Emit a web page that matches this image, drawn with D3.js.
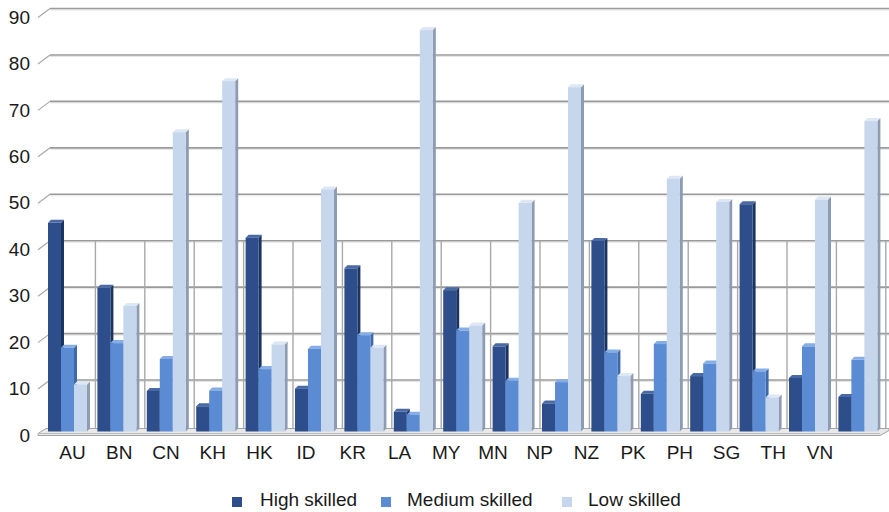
<!DOCTYPE html>
<html>
<head>
<meta charset="utf-8">
<script src="https://cdn.jsdelivr.net/npm/d3@7/dist/d3.min.js"></script>
<style>
  html, body { margin: 0; padding: 0; background: #ffffff; }
  svg { display: block; font-family: "Liberation Sans", Arial, sans-serif; }
</style>
</head>
<body>
<svg id="chart" width="889" height="512"></svg>
<script>
// ---- data ----
const categories = ["AU","BN","CN","KH","HK","ID","KR","LA","MY","MN","NP","NZ","PK","PH","SG","TH","VN"];
const seriesNames = ["High skilled", "Medium skilled", "Low skilled"];
const highSkilled   = [44.5, 30.5, 8.3, 5.0, 41.3, 8.8, 34.7, 3.8, 30.0, 17.9, 5.6, 40.6, 7.7, 11.5, 48.5, 11.1, 7.0];
const mediumSkilled = [17.6, 18.6, 15.2, 8.4, 13.0, 17.4, 20.3, 3.2, 21.3, 10.5, 10.2, 16.6, 18.4, 14.2, 12.5, 17.9, 15.0];
const lowSkilled    = [9.7, 26.6, 64.0, 75.0, 18.3, 51.7, 17.6, 86.0, 22.4, 48.8, 73.7, 11.5, 54.0, 49.0, 6.9, 49.5, 66.4];
const yTicks = [0, 10, 20, 30, 40, 50, 60, 70, 80, 90];

const seriesValues = [highSkilled, mediumSkilled, lowSkilled];
const colors = {
  front: ["#2d4e8a", "#5b8cd3", "#c6d6ec"],
  side:  ["#1c3462", "#3d69ab", "#8d9cb3"],
  top:   ["#4a6aa6", "#86aee6", "#dde7f5"]
};

const svg = d3.select("#chart");
const W = 889, H = 512;
const depth = 3;            // 3D offset of bars
const floorFront = 431.5;   // front baseline of bars

const y = d3.scaleLinear().domain([0, 90]).range([426.5, 8.5]);
const x0 = d3.scaleBand().domain(categories).range([48, 48 + 49.4 * categories.length]).paddingInner(0).paddingOuter(0);
const x1 = d3.scaleBand().domain(seriesNames).range([0, 39]).padding(0);
const xLabel = d3.scalePoint().domain(categories).range([72.5, 820]);

// ---- gridlines (back wall) with slanted side-wall ticks ----
const grid = svg.append("g");
yTicks.forEach(t => {
  if (t === 0) return;
  const yy = y(t);
  grid.append("line").attr("x1", 50).attr("x2", W).attr("y1", yy).attr("y2", yy)
    .attr("stroke", "#e4e4e4").attr("stroke-width", 1).attr("transform", "translate(0,1.5)");
  grid.append("line").attr("x1", 50).attr("x2", W).attr("y1", yy).attr("y2", yy)
    .attr("stroke", "#9a9a9a").attr("stroke-width", 1.6);
  grid.append("line").attr("x1", 38).attr("y1", yy + 9).attr("x2", 50).attr("y2", yy)
    .attr("stroke", "#a8a8a8").attr("stroke-width", 1.2);
});

// vertical separators between groups (lower part of back wall)
categories.forEach((c, i) => {
  if (i === 0) return;
  const xx = x0(c) - 2;
  grid.append("line").attr("x1", xx).attr("x2", xx).attr("y1", y(40)).attr("y2", y(0) + 2)
    .attr("stroke", "#a9a9a9").attr("stroke-width", 1.4);
});
{
  const xx = x0(categories[categories.length - 1]) + x0.bandwidth() - 2;
  grid.append("line").attr("x1", xx).attr("x2", xx).attr("y1", y(40)).attr("y2", y(0) + 2)
    .attr("stroke", "#a9a9a9").attr("stroke-width", 1.4);
}

// ---- floor slab ----
const fy = y(0);
svg.append("path")
  .attr("d", `M38,${fy + 7} L46,${fy + 2} L889,${fy + 2} L889,${fy + 4} L880,${fy + 9} L38,${fy + 9} Z`)
  .attr("fill", "#e9e9e9").attr("stroke", "#a5a5a5").attr("stroke-width", 1);
svg.append("line").attr("x1", 38).attr("x2", 880).attr("y1", fy + 7).attr("y2", fy + 7)
  .attr("stroke", "#bdbdbd").attr("stroke-width", 1);

// ---- bars ----
const barsG = svg.append("g");
categories.forEach((c, i) => {
  const g = barsG.append("g").attr("transform", `translate(${x0(c)},0)`);
  seriesNames.forEach((s, k) => {
    const v = seriesValues[k][i];
    const bx = x1(s), bw = x1.bandwidth();
    const yt = y(v);
    // side face
    g.append("path")
      .attr("d", `M${bx + bw},${yt + depth} L${bx + bw + depth},${yt} L${bx + bw + depth},${floorFront - depth} L${bx + bw},${floorFront} Z`)
      .attr("fill", colors.side[k]);
    // top cap
    g.append("path")
      .attr("d", `M${bx},${yt + depth} L${bx + depth},${yt} L${bx + bw + depth},${yt} L${bx + bw},${yt + depth} Z`)
      .attr("fill", colors.top[k]);
    // front face
    g.append("rect")
      .attr("x", bx).attr("y", yt + depth)
      .attr("width", bw).attr("height", Math.max(0, floorFront - yt - depth))
      .attr("fill", colors.front[k]);
  });
});

// ---- y-axis labels ----
const yl = svg.append("g").attr("font-size", 19).attr("fill", "#1a1a1a").attr("text-anchor", "end");
yTicks.forEach(t => {
  yl.append("text").attr("x", 30).attr("y", y(t) + 8.5).attr("dy", "0.35em").text(t);
});

// ---- x-axis labels ----
const xl = svg.append("g").attr("font-size", 19).attr("fill", "#1a1a1a").attr("text-anchor", "middle");
categories.forEach(c => {
  xl.append("text").attr("x", xLabel(c)).attr("y", 459).text(c);
});

// ---- legend ----
const legendItems = [
  { name: seriesNames[0], sx: 232, tx: 260 },
  { name: seriesNames[1], sx: 381, tx: 407 },
  { name: seriesNames[2], sx: 562, tx: 588 }
];
const lg = svg.append("g");
legendItems.forEach((d, k) => {
  lg.append("rect").attr("x", d.sx).attr("y", 497).attr("width", 10).attr("height", 10).attr("fill", colors.front[k]);
  lg.append("text").attr("x", d.tx).attr("y", 506).attr("font-size", 19).attr("fill", "#1a1a1a").text(d.name);
});
</script>
</body>
</html>
